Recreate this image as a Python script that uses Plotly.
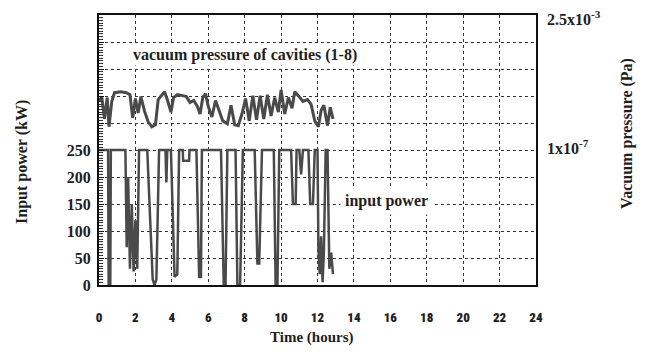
import plotly.graph_objects as go

# ---- data ----
power_time_h = [0.0, 0.5, 0.53, 0.62, 0.65, 1.45, 1.52, 1.6, 1.7, 1.8, 1.9, 2.0, 2.1, 2.2,
                2.65, 2.8, 2.95, 3.05, 3.15, 3.3, 3.65, 3.7, 3.75, 3.95, 4.15, 4.3, 4.4,
                4.6, 4.62, 4.95, 4.97, 5.35, 5.5, 5.6, 5.65, 6.7, 6.85, 6.95, 7.05, 7.5,
                7.6, 7.75, 7.9, 8.55, 8.7, 8.8, 8.95, 9.6, 9.7, 9.8, 9.9, 10.55, 10.65,
                10.8, 10.85, 11.0, 11.1, 11.2, 11.5, 11.6, 11.75, 11.85, 12.0, 12.05,
                12.12, 12.2, 12.28, 12.35, 12.45, 12.55, 12.65, 12.75, 12.85]
power_kw = [250, 250, 0, 0, 250, 250, 70, 200, 30, 150, 25, 120, 30, 250,
            250, 120, 10, 0, 10, 250, 250, 190, 250, 250, 15, 20, 250,
            250, 230, 230, 250, 250, 15, 15, 250, 250, 0, 0, 250, 250,
            0, 0, 250, 250, 40, 40, 250, 250, 0, 0, 250, 250, 150,
            150, 250, 250, 205, 250, 250, 150, 150, 250, 250, 70,
            20, 90, 5, 60, 250, 250, 30, 60, 20]

pressure_time_h = [0.0, 0.15, 0.3, 0.45, 0.55, 0.7, 0.85, 1.2, 1.5, 1.7, 1.85, 2.0, 2.15, 2.3,
                   2.5, 2.7, 2.9, 3.1, 3.25, 3.45, 3.6, 3.75, 3.95, 4.1, 4.3, 4.6, 4.8, 5.0,
                   5.2, 5.4, 5.55, 5.7, 5.85, 6.0, 6.2, 6.4, 6.6, 6.8, 7.05, 7.25, 7.45,
                   7.65, 7.85, 8.05, 8.25, 8.45, 8.65, 8.85, 9.05, 9.25, 9.45, 9.65, 9.85,
                   10.0, 10.2, 10.4, 10.6, 10.75, 10.95, 11.2, 11.45, 11.65, 11.85, 12.05,
                   12.2, 12.35, 12.55, 12.7, 12.85]
pressure_upa = [3.86, 5.65, 0.98, 5.24, 0.53, 3.86, 7.67, 8.3, 7.67, 6.59, 1.06, 4.85, 1.55, 5.65,
                1.80, 0.78, 0.53, 0.62, 4.5, 6.59, 8.3, 4.5, 1.67, 5.24, 6.59, 6.11, 5.65, 3.58,
                4.17, 2.64, 1.44, 5.24, 7.1, 2.64, 1.14, 4.17, 1.80, 0.84, 0.67, 2.85, 0.62,
                0.58, 1.44, 4.85, 0.84, 6.11, 0.91, 6.11, 0.98, 6.59, 1.23, 5.24, 1.67,
                9.6, 1.44, 5.24, 2.27, 8.3, 6.11, 3.86, 4.5, 3.08, 0.84, 0.53,
                1.95, 2.85, 0.58, 2.45, 0.98]
pressure_pa = [v * 1e-6 for v in pressure_upa]

x_ticks = list(range(0, 25, 2))
power_grid = list(range(0, 500, 50))
power_labels = [str(v) if v <= 250 else "" for v in power_grid]
pressure_ticks = [1e-7, 2.5e-3]
pressure_labels = ["1x10<sup>-7</sup>", "2.5x10<sup>-3</sup>"]

SERIF = "Liberation Serif, Times New Roman, serif"
NARROW = "Roboto Condensed, Liberation Sans Narrow, DejaVu Sans Condensed, Roboto, sans-serif"
INK = "#1e1e1e"
TRACE = "#4a4a4a"

fig = go.Figure()
fig.add_trace(go.Scatter(x=power_time_h, y=power_kw, mode="lines",
                         line=dict(color=TRACE, width=2.5), yaxis="y", showlegend=False))
fig.add_trace(go.Scatter(x=pressure_time_h, y=pressure_pa, mode="lines",
                         line=dict(color=TRACE, width=3), yaxis="y2", showlegend=False))

grid = dict(showgrid=True, gridcolor="#333333", gridwidth=1, griddash="dot")

fig.update_layout(
    width=629, height=338,
    margin=dict(l=91, r=101, t=7, b=61),
    paper_bgcolor="white", plot_bgcolor="white",
    xaxis=dict(range=[0, 24], tickmode="array", tickvals=x_ticks, automargin=False,
               ticks="outside", ticklen=0, ticklabelstandoff=19,
               tickfont=dict(family=NARROW, size=13, color=INK, weight=900),
               showline=True, linecolor="#111", linewidth=2, mirror=True,
               zeroline=False, **grid),
    yaxis=dict(range=[0, 500], tickmode="array", tickvals=power_grid, ticktext=power_labels,
               automargin=False, ticklabelstandoff=3,
               ticks="inside", ticklen=5, tickcolor="#111",
               minor=dict(tickmode="linear", tick0=0, dtick=5, ticks="inside",
                          ticklen=4, tickcolor="#333", showgrid=False),
               tickfont=dict(family=SERIF, size=16, color=INK, weight="bold"),
               showline=True, linecolor="#111", linewidth=2, mirror=True,
               zeroline=False, **grid),
    yaxis2=dict(type="log", range=[-11.67, -2.466], overlaying="y", side="right",
                automargin=False, ticklabeloverflow="allow",
                tickmode="array", tickvals=pressure_ticks, ticktext=pressure_labels,
                ticks="", ticklabelstandoff=10,
                tickfont=dict(family=SERIF, size=16, color=INK, weight="bold"),
                showgrid=False, showline=False, zeroline=False),
)

ann = dict(showarrow=False, xanchor="center", yanchor="middle")
fig.add_annotation(text="vacuum pressure of cavities (1-8)", xref="x", yref="paper",
                   x=8.0, y=0.852, bgcolor="white", borderpad=1,
                   font=dict(family=SERIF, size=16, color=INK, weight="bold"), **ann)
fig.add_annotation(text="input power", xref="x", yref="paper",
                   x=15.8, y=0.311, bgcolor="white", borderpad=4,
                   font=dict(family=SERIF, size=16, color=INK, weight="bold"), **ann)
fig.add_annotation(text="Time (hours)", xref="paper", yref="paper",
                   x=0.487, y=-0.196,
                   font=dict(family=SERIF, size=15, color=INK, weight="bold"), **ann)
fig.add_annotation(text="Input power (kW)", xref="paper", yref="paper",
                   x=-0.176, y=0.456, textangle=-90,
                   font=dict(family=SERIF, size=16, color=INK, weight="bold"), **ann)
fig.add_annotation(text="Vacuum pressure (Pa)", xref="paper", yref="paper",
                   x=1.208, y=0.563, textangle=-90,
                   font=dict(family=SERIF, size=16, color=INK, weight="bold"), **ann)

fig.write_html("out.html")
